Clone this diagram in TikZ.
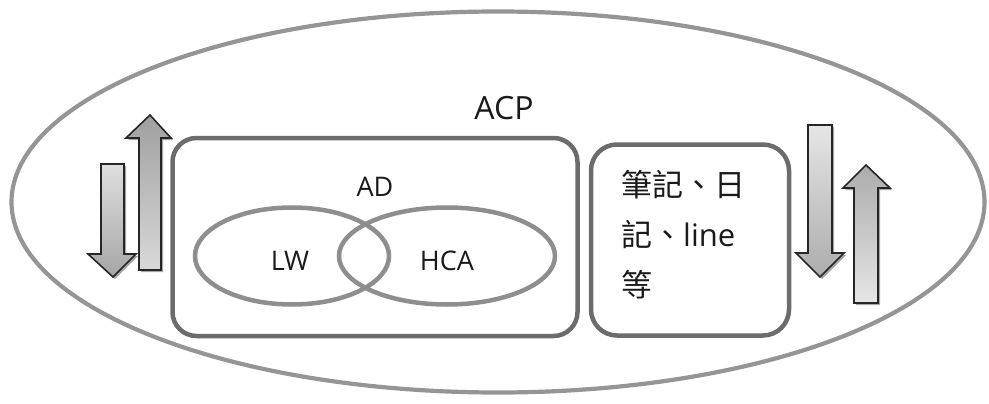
\documentclass[tikz,border=0pt]{standalone}
\usepackage{fontspec}
\setmainfont{Open Sans}
\newfontfamily\cjk{Noto Sans CJK TC}
\usetikzlibrary{shapes.geometric,shadows}
\definecolor{outerc}{HTML}{959595}
\definecolor{ellc}{HTML}{8E8E8E}
\definecolor{boxc}{HTML}{6C6C6C}
\definecolor{txt}{HTML}{1A1A1A}
\begin{document}
\begin{tikzpicture}[x=1pt,y=-1pt,
  outerell/.style={ellipse,draw=outerc,line width=4.2pt,inner sep=0pt},
  venn/.style={ellipse,draw=ellc,line width=4.5pt,inner sep=0pt},
  rbox/.style={draw=boxc,line width=4.5pt,rounded corners=24pt,inner sep=0pt},
  lbl/.style={text=txt,font=\fontsize{27}{32}\selectfont,inner sep=0pt},
  arr/.style={draw=black!85,line width=1.6pt,line join=miter,
    drop shadow={shadow xshift=2pt,shadow yshift=-2pt,opacity=0.35,fill=black}}
]
\useasboundingbox (0,0) rectangle (989,404);

\node[outerell,minimum width=973pt,minimum height=381pt] (outer) at (498,202) {};
\node[lbl,font=\fontsize{32}{36}\selectfont] (acp) at (504,108) {ACP};

\node[rbox,minimum width=405pt,minimum height=198pt] (adbox) at (375,237) {};
\node[lbl] (ad) at (375,187) {AD};

\node[venn,minimum width=194pt,minimum height=97pt] (lwell) at (292,256) {};
\node[venn,minimum width=216pt,minimum height=97pt] (hcaell) at (447,256) {};
\node[lbl] (lw) at (290,261) {LW};
\node[lbl] (hca) at (447,261) {HCA};

\node[rbox,minimum width=198pt,minimum height=191pt,rounded corners=26pt] (notebox) at (690,240) {};
\node[lbl,anchor=north west,align=left,font=\fontsize{31}{50}\selectfont] (notes) at (621,170)
  {{\cjk 筆記、日}\\{\cjk 記、}line\\{\cjk 等}};

% left arrows
\path[arr,top color=gray!25,bottom color=gray!70]
  (101,164) -- (124,164) -- (124,254) -- (136,254) -- (113,277) -- (88,254) -- (101,254) -- cycle;
\path[arr,top color=gray!75,bottom color=gray!30]
  (139,270) -- (161,270) -- (161,138) -- (171,138) -- (150,115) -- (126,138) -- (139,138) -- cycle;

% right arrows
\path[arr,top color=gray!20,bottom color=gray!65]
  (808,125) -- (832,125) -- (832,253) -- (844,253) -- (820,277) -- (796,253) -- (808,253) -- cycle;
\path[arr,top color=gray!65,bottom color=gray!20]
  (854,303) -- (878,303) -- (878,188) -- (890,188) -- (866,165) -- (843,188) -- (854,188) -- cycle;
\end{tikzpicture}
\end{document}
